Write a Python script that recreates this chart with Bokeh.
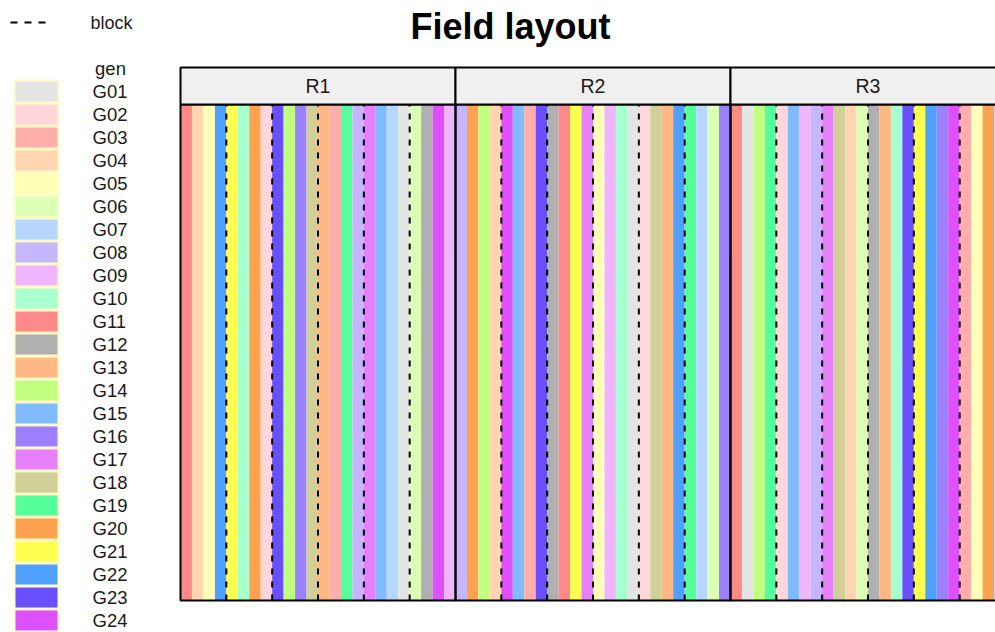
from bokeh.plotting import figure
from bokeh.models import ColumnDataSource, Range1d
from bokeh.core.properties import value
from bokeh.embed import file_html
from bokeh.resources import INLINE

# ---------------- data ----------------
genotypes = [f"G{i:02d}" for i in range(1, 25)]
gen_colors = ["#e4e4e4", "#ffd6d9", "#ffadad", "#ffd6b0", "#ffffb5", "#daffb5",
              "#b5d6ff", "#c6b5ff", "#efb5ff", "#a8ffcf", "#ff8888", "#b0b0b0",
              "#ffb884", "#c0ff80", "#80baff", "#9b80ff", "#e680ff", "#d0d098",
              "#55ff9a", "#ffa24f", "#ffff4f", "#4fa0ff", "#6a4fff", "#dd4fff"]
reps = ["R1", "R2", "R3"]
rep1 = [11, 4, 5, 22, 21, 10, 20, 2, 23, 14, 16, 18, 13, 3, 19, 8, 17, 15, 7, 1, 6, 12, 24, 9]
rep2 = [8, 20, 14, 4, 24, 15, 3, 23, 12, 11, 21, 17, 5, 9, 10, 1, 2, 18, 13, 22, 19, 7, 6, 16]
rep3 = [11, 1, 14, 19, 2, 15, 9, 8, 17, 18, 4, 6, 12, 13, 10, 23, 21, 22, 16, 24, 3, 5, 20, 7]
plots_per_block = 4
title_text = "Field layout"
legend_title = "gen"
line_legend = "block"

FONT = value("Liberation Sans")
W, H = 995, 632

# ---------------- build tables ----------------
layout_reps = [rep1, rep2, rep3]
n_plots = len(rep1)
left, right, colors = [], [], []
block_x = []
for r, plots in enumerate(layout_reps):
    for i, g in enumerate(plots):
        col = r * n_plots + i
        left.append(col)
        right.append(col + 1)
        colors.append(gen_colors[g - 1])
        if i > 0 and i % plots_per_block == 0:
            block_x.append(col)

stripes = ColumnDataSource(dict(left=left, right=right, color=colors))
panels = ColumnDataSource(dict(
    left=[r * n_plots for r in range(len(reps))],
    right=[(r + 1) * n_plots for r in range(len(reps))],
    mid=[r * n_plots + n_plots / 2 for r in range(len(reps))],
    label=reps))
blocks = ColumnDataSource(dict(x=block_x))

# ---------------- figure (frame = whole canvas) ----------------
px_per_plot = 275 / 24          # horizontal size of one plot
px_per_unit = 496               # vertical size of the field (0..1)
panel_left_px, panel_bottom_px, strip_px = 180, 600, 37
strip_top = 1 + strip_px / px_per_unit

p = figure(width=W, height=H, output_backend="svg", toolbar_location=None,
           x_range=Range1d(-panel_left_px / px_per_plot, (W - panel_left_px) / px_per_plot),
           y_range=Range1d(-(H - panel_bottom_px) / px_per_unit, panel_bottom_px / px_per_unit),
           min_border=0)
p.axis.visible = False
p.grid.visible = False
p.outline_line_color = None
p.background_fill_color = "white"
p.border_fill_color = "white"

# legend ranges: x in page pixels, y in legend row index
step = 23
first_row_px = 22
p.extra_x_ranges = {"page": Range1d(0, W)}
p.extra_y_ranges = {"leg": Range1d((H - first_row_px) / step, -first_row_px / step),
                    "page": Range1d(H, 0)}

# field
p.quad(left="left", right="right", bottom=0, top=1, fill_color="color",
       line_color=None, source=stripes)
p.segment(x0="x", x1="x", y0=0, y1=1, source=blocks, line_color="black",
          line_width=2, line_dash="6 7")
p.quad(left="left", right="right", bottom=0, top=1, fill_color=None,
       line_color="black", line_width=2, source=panels)
p.quad(left="left", right="right", bottom=1, top=strip_top, fill_color="#f0f0f0",
       line_color="black", line_width=2, source=panels)
p.text(x="mid", y=(1 + strip_top) / 2, text="label", source=panels,
       text_align="center", text_baseline="middle", text_font=FONT,
       text_font_size="19.5px", text_color="#1a1a1a")

# title
p.text(x=[510], y=[26], text=[title_text], x_range_name="page", y_range_name="page",
       text_align="center", text_baseline="middle", text_font=FONT,
       text_font_size="36px", text_font_style="bold", text_color="black")

# legend
gen_rows = list(range(3, 3 + len(genotypes)))
keys = ColumnDataSource(dict(row=gen_rows, gen=genotypes, color=gen_colors))
p.rect(x=36, y="row", width=44, height=0.95, fill_color="color",
       line_color="#fffbc8", line_width=2, source=keys,
       x_range_name="page", y_range_name="leg")
p.text(x=92, y="row", text="gen", source=keys, text_baseline="middle",
       text_font=FONT, text_font_size="18.5px", text_color="#1a1a1a",
       x_range_name="page", y_range_name="leg")
p.text(x=[110], y=[2], text=[legend_title], text_align="center",
       text_baseline="middle", text_font=FONT, text_font_size="18.5px",
       text_color="#1a1a1a", x_range_name="page", y_range_name="leg")
p.segment(x0=[10], x1=[50], y0=[0], y1=[0], line_color="black",
          line_width=2, line_dash="7 7", x_range_name="page", y_range_name="leg")
p.text(x=[90], y=[0], text=[line_legend], text_baseline="middle",
       text_font=FONT, text_font_size="18px", text_color="#1a1a1a",
       x_range_name="page", y_range_name="leg")

open("out.html", "w").write(file_html(p, INLINE))
